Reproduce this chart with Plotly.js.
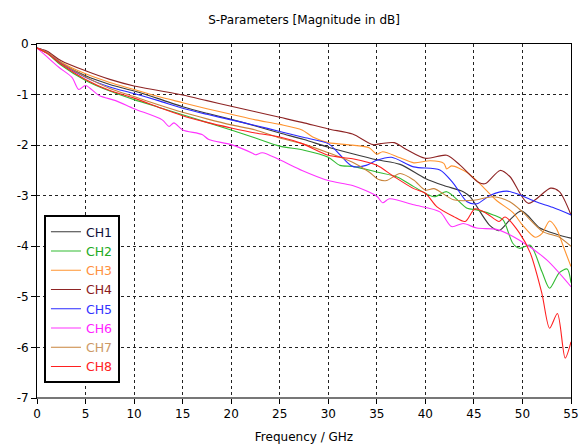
<!DOCTYPE html>
<html>
<head>
<meta charset="utf-8">
<script src="https://cdn.plot.ly/plotly-3.0.1.min.js"></script>
<style>
html,body{margin:0;padding:0;background:#fff;}
#chart{width:587px;height:446px;}
</style>
</head>
<body>
<div id="chart"></div>
<script>
// ---- Data (frequency in GHz, magnitude in dB) ----
const names = ["CH1","CH2","CH3","CH4","CH5","CH6","CH7","CH8"];
const lineColors = ["#3a3a3a","#33bb33","#ff9430","#8e2424","#2a2aff","#ff33ff","#c8843c","#ff2020"];
const textColors = ["#101038","#22aa22","#ff9040","#8b1a1a","#3333ff","#ff22ff","#cc9966","#ff2222"];

const ch1_f  = [0,1,2.5,5,7.5,10,12.5,15,17.5,20,22.5,25,27.5,30,32.5,35,37.4,40,41.9,43.9,44.6,46.6,47.6,48.7,49.9,51.8,53.5,55];
const ch1_db = [-0.08,-0.17,-0.38,-0.63,-0.8,-0.93,-1.08,-1.24,-1.37,-1.49,-1.62,-1.76,-1.89,-2.04,-2.17,-2.29,-2.38,-2.66,-2.8,-2.92,-3.02,-3.58,-3.69,-3.48,-3.3,-3.64,-3.76,-3.84];

const ch2_f  = [0,1,2.5,5,7.5,10,12.5,15,17.5,20,22.5,25,27.5,30,31.2,32.5,35,37.1,38.8,40.9,42.2,44.3,45.3,47,48,49,49.7,50.8,52,52.8,53.8,54.6,55];
const ch2_db = [-0.08,-0.18,-0.42,-0.72,-0.93,-1.1,-1.25,-1.4,-1.55,-1.7,-1.86,-2.02,-2.1,-2.24,-2.4,-2.42,-2.53,-2.63,-2.82,-3.02,-2.92,-3.25,-3.28,-3.38,-3.48,-3.94,-4.04,-3.98,-4.5,-4.83,-4.52,-4.45,-4.72];

const ch3_f  = [0,1,2.5,5,7.5,10,12.5,15,17.5,20,22.5,25,27.3,28.4,30,32.5,34.2,35,35.6,37.4,38.8,40.5,41.9,42.2,42.7,44.3,45.6,47.3,49,50,51.3,52,52.8,53.5,54.3,55];
const ch3_db = [-0.08,-0.15,-0.36,-0.59,-0.76,-0.9,-1.04,-1.16,-1.28,-1.39,-1.5,-1.59,-1.7,-1.84,-1.95,-2.0,-2.05,-2.18,-2.13,-2.25,-2.35,-2.31,-2.36,-2.47,-2.41,-2.54,-2.76,-3.09,-3.33,-3.58,-3.82,-3.75,-3.5,-3.65,-4.05,-4.4];

const ch4_f  = [0,1,2.5,5,7.5,10,12.5,15,17.5,20,22.5,25,27.3,30,32.5,34.6,35.4,36.8,38,40,42.2,43.6,45.5,46.2,47.7,48.7,50.6,52.9,53.8,55];
const ch4_db = [-0.08,-0.14,-0.33,-0.53,-0.7,-0.83,-0.92,-1.01,-1.12,-1.23,-1.34,-1.45,-1.55,-1.68,-1.78,-1.99,-1.97,-1.95,-2.08,-2.26,-2.2,-2.4,-2.74,-2.76,-2.5,-2.62,-3.15,-2.85,-2.92,-3.38];

const ch5_f  = [0,1,2.5,5,7.5,10,12.5,15,17.5,20,22.5,25,27.3,30,31.1,32.5,33.9,35,36.5,38.8,41.5,42.9,44.3,45.3,46.7,48.4,49.7,51.4,53.1,55];
const ch5_db = [-0.08,-0.16,-0.38,-0.66,-0.85,-0.98,-1.12,-1.27,-1.39,-1.5,-1.61,-1.73,-1.84,-1.97,-2.17,-2.42,-2.4,-2.3,-2.24,-2.43,-2.49,-2.76,-3.12,-3.16,-2.99,-2.91,-2.98,-3.12,-3.23,-3.38];

const ch6_f  = [0,0.9,2.25,3.6,4.3,5,6.4,8.1,10,12.9,13.6,14.1,15,17,17.7,20,22.2,22.5,23.2,25,27.3,30,32.5,35,35.6,36.3,38.8,41.5,42.7,43.9,45.3,47.4,49.7,52.5,55];
const ch6_db = [-0.08,-0.23,-0.46,-0.66,-0.9,-0.82,-1.02,-1.12,-1.28,-1.5,-1.63,-1.56,-1.7,-1.79,-1.89,-1.99,-2.16,-2.19,-2.15,-2.29,-2.5,-2.7,-2.8,-3.01,-3.14,-3.06,-3.18,-3.32,-3.61,-3.55,-3.64,-3.67,-3.88,-4.27,-4.8];

const ch7_f  = [0,1,2.5,5,7.5,10,12.5,15,17.5,20,22.5,25,27.3,30,32.5,34.2,35.2,36,37.4,38.8,40,40.9,42.9,45,47,48.7,50,52.1,53.8,55];
const ch7_db = [-0.08,-0.16,-0.37,-0.65,-0.88,-1.04,-1.2,-1.35,-1.48,-1.6,-1.7,-1.86,-1.97,-2.15,-2.34,-2.53,-2.68,-2.7,-2.56,-2.69,-2.89,-2.86,-3.08,-3.09,-3.02,-3.12,-3.32,-3.71,-3.82,-4.0];

const ch8_f  = [0,1,2.5,5,7.5,10,12.5,15,17.5,20,22.5,25,27.3,30,32.5,35,36.6,38.8,40,41.2,42.9,44.1,45.1,46.3,47.6,48.2,49.7,50.8,52,52.8,53.6,54.4,55];
const ch8_db = [-0.08,-0.18,-0.4,-0.7,-0.92,-1.07,-1.25,-1.42,-1.55,-1.66,-1.76,-1.84,-1.97,-2.2,-2.27,-2.4,-2.6,-2.86,-2.95,-3.22,-3.41,-3.51,-3.26,-3.35,-3.51,-3.42,-3.74,-4.13,-4.93,-5.62,-5.33,-6.21,-5.89];

const xTicks = [0,5,10,15,20,25,30,35,40,45,50,55];
const yTicks = [0,-1,-2,-3,-4,-5,-6,-7];

const freqs = [ch1_f,ch2_f,ch3_f,ch4_f,ch5_f,ch6_f,ch7_f,ch8_f];
const mags  = [ch1_db,ch2_db,ch3_db,ch4_db,ch5_db,ch6_db,ch7_db,ch8_db];

const traces = names.map((n,i)=>({
  x: freqs[i], y: mags[i], type:'scatter', mode:'lines',
  name: '<span style="color:'+textColors[i]+'">'+n+'</span>',
  line:{color:lineColors[i], width:1.1, shape:'spline', smoothing:0.8},
  hoverinfo:'skip'
}));

const font = {family:'"DejaVu Sans", Verdana, sans-serif', size:12, color:'#000'};

const axisCommon = {
  showline:true, linecolor:'#000', linewidth:1, mirror:true,
  ticks:'outside', ticklen:5, tickcolor:'#000', tickwidth:1,
  showgrid:true, gridcolor:'#222', gridwidth:1, griddash:'3px,3px',
  zeroline:false, tickfont:font, fixedrange:true
};

const layout = {
  width:587, height:446,
  margin:{l:37, r:16, t:44, b:48},
  paper_bgcolor:'#fff', plot_bgcolor:'#fff',
  font:font,
  title:{text:'S-Parameters [Magnitude in dB]', font:font, x:0.518, xanchor:'center', y:0.955, yanchor:'middle'},
  xaxis:Object.assign({}, axisCommon, {
    range:[0,55], tickvals:xTicks, ticktext:xTicks.map(String),
    title:{text:'Frequency / GHz', font:font, standoff:12}
  }),
  yaxis:Object.assign({}, axisCommon, {
    range:[-7,0], tickvals:yTicks, ticktext:yTicks.map(String)
  }),
  shapes:[
    {type:'line', xref:'paper', yref:'paper', x0:0, x1:1, y0:0, y1:0, line:{color:'#777', width:2}}
  ],
  showlegend:true,
  legend:{
    x:0.013, y:0.042, xanchor:'left', yanchor:'bottom',
    bgcolor:'#fff', bordercolor:'#000', borderwidth:2,
    font:Object.assign({}, font, {size:12.5}), itemwidth:30, tracegroupgap:0
  }
};

Plotly.newPlot('chart', traces, layout, {displayModeBar:false, staticPlot:true});
</script>
</body>
</html>
